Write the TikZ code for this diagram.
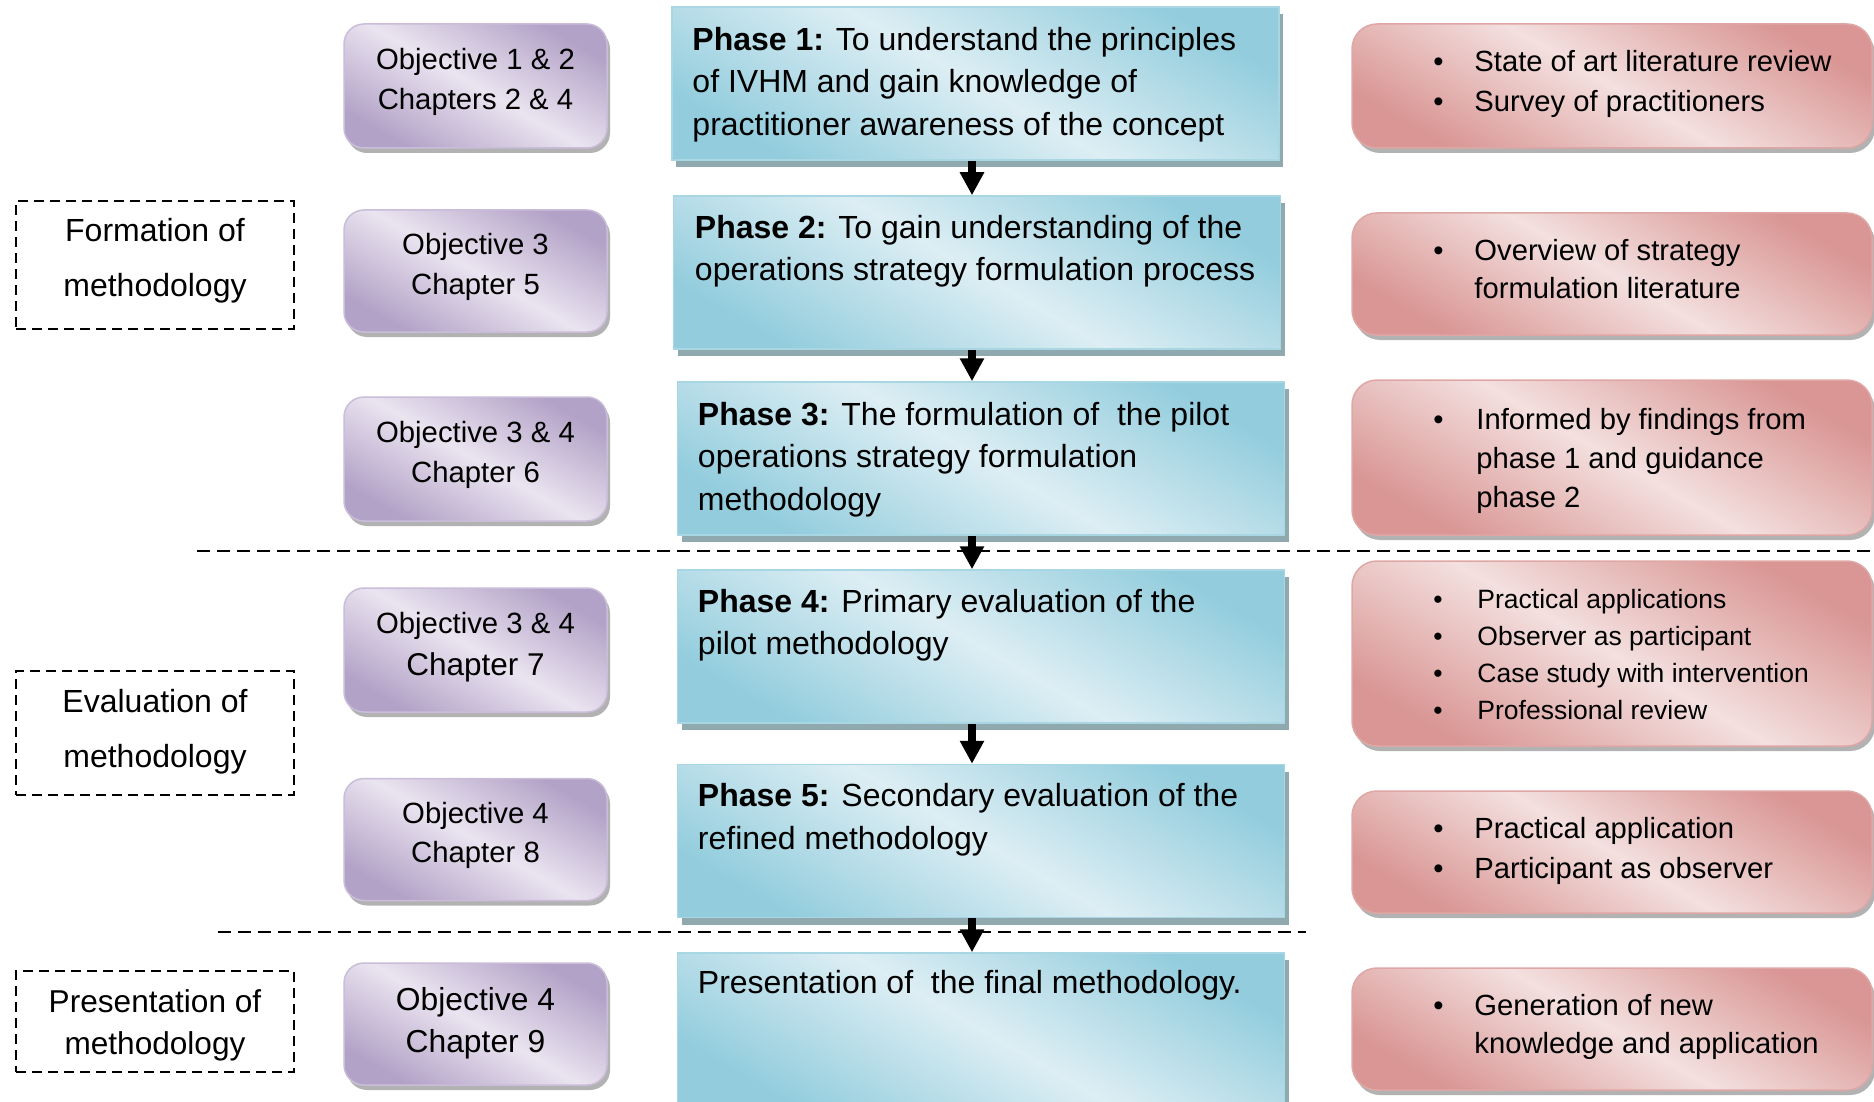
\documentclass[tikz,border=0pt]{standalone}
\usepackage{fontspec}
\setmainfont{Liberation Sans}
\usetikzlibrary{arrows.meta,shadows}

\definecolor{objdark}{HTML}{B3A2C7}
\definecolor{objlight}{HTML}{EAE4F0}
\definecolor{objedge}{HTML}{C9BDD9}
\definecolor{phdark}{HTML}{93CDDD}
\definecolor{phlight}{HTML}{DDEEF4}
\definecolor{phedge}{HTML}{A8D6E3}
\definecolor{phshadow}{HTML}{8FA9AF}
\definecolor{mtdark}{HTML}{D99694}
\definecolor{mtlight}{HTML}{F3E0DF}
\definecolor{mtedge}{HTML}{DEA7A5}

% bullet followed by the gap before the item text
\newcommand\bul{\makebox[41pt][l]{\textbullet}}
% fixes the height of the first text line in the phase boxes
\newcommand\lineopen{\rule{0pt}{24pt}}

\begin{document}
\begin{tikzpicture}[x=1pt,y=-1pt,
  objbox/.style={draw=objedge,line width=1.5pt,rounded corners=20pt,
    top color=objdark,bottom color=objdark,middle color=objlight,shading angle=-30,
    drop shadow={shadow xshift=3pt,shadow yshift=-5pt,fill=black,opacity=.3},
    minimum width=263pt,inner sep=0pt},
  phasebox/.style={draw=phedge,line width=1.5pt,
    top color=phdark,bottom color=phdark,middle color=phlight,shading angle=-30,
    drop shadow={shadow xshift=4pt,shadow yshift=-7pt,fill=phshadow,opacity=1},
    minimum width=607pt,minimum height=153pt,inner sep=0pt},
  methbox/.style={draw=mtedge,line width=1.5pt,rounded corners=25pt,
    top color=mtdark,bottom color=mtdark,middle color=mtlight,shading angle=-30,
    drop shadow={shadow xshift=3pt,shadow yshift=-5pt,fill=black,opacity=.3},
    minimum width=520pt,inner sep=0pt},
  stagebox/.style={draw,dash pattern=on 10pt off 6pt,line width=2pt,
    minimum width=278pt,inner sep=0pt},
  stagetext/.style={align=center,inner sep=0pt,font=\fontsize{32}{55}\selectfont},
  objtext/.style={align=center,inner sep=0pt,font=\fontsize{29.3}{39.5}\selectfont},
  phasetext/.style={anchor=north west,align=left,inner sep=0pt,
    font=\fontsize{32}{42.5}\selectfont},
  methtext/.style={anchor=west,align=left,inner sep=0pt,
    font=\fontsize{29.2}{40}\selectfont},
  flow/.style={line width=8pt,-{Triangle[width=23pt,length=23pt]}},
  divider/.style={dash pattern=on 13pt off 7pt,line width=2pt}]

\useasboundingbox (0,0) rectangle (1874,1102);

% stage labels on the left
\node[stagebox,minimum height=128pt] (s1) at (155,265) {};
\node[stagetext] (s1t) at ([yshift=4pt]s1.center) {Formation of\\methodology};
\node[stagebox,minimum height=124pt] (s2) at (155,733) {};
\node[stagetext] (s2t) at ([yshift=1pt]s2.center) {Evaluation of\\methodology};
\node[stagebox,minimum height=101pt] (s3) at (155,1021.5) {};
\node[stagetext,font=\fontsize{31.6}{42}\selectfont] (s3t) at ([yshift=-3.5pt]s3.center)
  {Presentation of\\methodology};

% objectives and chapters
\node[objbox,minimum height=124pt] (o1) at (475.5,86) {};
\node[objtext] (o1t) at ([yshift=4pt]o1.center) {Objective 1 \& 2\\Chapters 2 \& 4};
\node[objbox,minimum height=122pt] (o2) at (475.5,271) {};
\node[objtext] (o2t) at ([yshift=4pt]o2.center) {Objective 3\\Chapter 5};
\node[objbox,minimum height=124pt] (o3) at (475.5,459) {};
\node[objtext] (o3t) at ([yshift=4pt]o3.center) {Objective 3 \& 4\\Chapter 6};
\node[objbox,minimum height=124pt] (o4) at (475.5,650) {};
\node[objtext,font=\fontsize{29.3}{42}\selectfont] (o4t) at ([yshift=3pt]o4.center)
  {Objective 3 \& 4\\{\fontsize{31.5}{42}\selectfont Chapter 7}};
\node[objbox,minimum height=122pt] (o5) at (475.5,839.5) {};
\node[objtext] (o5t) at ([yshift=4pt]o5.center) {Objective 4\\Chapter 8};
\node[objbox,minimum height=122pt] (o6) at (475.5,1024) {};
\node[objtext,font=\fontsize{31.8}{42}\selectfont] (o6t) at ([yshift=0.5pt]o6.center)
  {Objective 4\\Chapter 9};

% phases
\node[phasebox] (p1) at (975.5,83.5) {};
\node[phasetext] (p1t) at ([shift={(21,20)}]p1.north west)
  {\lineopen\textbf{Phase 1:} To understand the principles\\of IVHM and gain knowledge of\\practitioner awareness of the concept};
\node[phasebox] (p2) at (977,272.5) {};
\node[phasetext] (p2t) at ([shift={(22,19)}]p2.north west)
  {\lineopen\textbf{Phase 2:} To gain understanding of the\\operations strategy formulation process};
\node[phasebox] (p3) at (981,458.5) {};
\node[phasetext] (p3t) at ([shift={(21,20)}]p3.north west)
  {\lineopen\textbf{Phase 3:} The formulation of \ the pilot\\operations strategy formulation\\methodology};
\node[phasebox] (p4) at (981,646.5) {};
\node[phasetext] (p4t) at ([shift={(21,19)}]p4.north west)
  {\lineopen\textbf{Phase 4:} Primary evaluation of the\\pilot methodology};
\node[phasebox] (p5) at (981,841) {};
\node[phasetext] (p5t) at ([shift={(21,19)}]p5.north west)
  {\lineopen\textbf{Phase 5:} Secondary evaluation of the\\refined methodology};
\node[phasebox] (p6) at (981,1029.5) {};
\node[phasetext] (p6t) at ([shift={(21,17)}]p6.north west)
  {\lineopen Presentation of \ the final methodology.};

% methods
\node[methbox,minimum height=124pt] (m1) at (1612,86) {};
\node[methtext] (m1t) at ([xshift=82pt,yshift=2.5pt]m1.west)
  {\bul State of art literature review\\\bul Survey of practitioners};
\node[methbox,minimum height=122pt] (m2) at (1612,274) {};
\node[methtext,font=\fontsize{29.2}{38}\selectfont] (m2t) at ([xshift=82pt,yshift=5pt]m2.west)
  {\bul Overview of strategy\\\hspace*{41pt}formulation literature};
\node[methbox,minimum height=155pt] (m3) at (1612,457.5) {};
\node[methtext,font=\fontsize{29.2}{39}\selectfont] (m3t) at ([xshift=82pt,yshift=-3.5pt]m3.west)
  {\makebox[43pt][l]{\textbullet}Informed by findings from\\\hspace*{43pt}phase 1 and guidance\\\hspace*{43pt}phase 2};
\node[methbox,minimum height=185pt] (m4) at (1612,653.5) {};
\node[methtext,font=\fontsize{26.5}{37}\selectfont] (m4t) at ([xshift=82pt,yshift=-1pt]m4.west)
  {\makebox[44pt][l]{\textbullet}Practical applications\\\makebox[44pt][l]{\textbullet}Observer as participant\\\makebox[44pt][l]{\textbullet}Case study with intervention\\\makebox[44pt][l]{\textbullet}Professional review};
\node[methbox,minimum height=122pt] (m5) at (1612,852) {};
\node[methtext] (m5t) at ([xshift=82pt,yshift=1pt]m5.west)
  {\bul Practical application\\\bul Participant as observer};
\node[methbox,minimum height=122pt] (m6) at (1612,1029) {};
\node[methtext,font=\fontsize{29.2}{38}\selectfont] (m6t) at ([xshift=82pt,yshift=2.5pt]m6.west)
  {\bul Generation of new\\\hspace*{41pt}knowledge and application};

% dividers between the stages
\coordinate (d1a) at (197,551);
\coordinate (d1b) at (1874,551);
\coordinate (d2a) at (218,932);
\coordinate (d2b) at (1306,932);
\draw[divider] (d1a) -- (d1b);
\draw[divider] (d2a) -- (d2b);

% flow between phases
\coordinate (ax) at (972,0);
\draw[flow] (p1.south -| ax) -- (p2.north -| ax);
\draw[flow] (p2.south -| ax) -- (p3.north -| ax);
\draw[flow] (p3.south -| ax) -- (p4.north -| ax);
\draw[flow] (p4.south -| ax) -- (p5.north -| ax);
\draw[flow] (p5.south -| ax) -- (p6.north -| ax);
\end{tikzpicture}
\end{document}
